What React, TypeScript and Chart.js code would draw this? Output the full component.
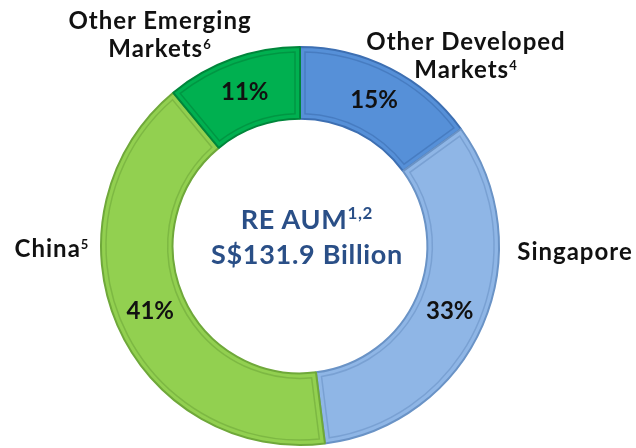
import React, { useEffect, useRef } from "react";
import { Chart, registerables } from "chart.js";

Chart.register(...registerables);

const categories = ["Other Developed Markets", "Singapore", "China", "Other Emerging Markets"];
const shares = [15, 33, 41, 11];
const fills = ["#5690D8", "#8FB6E6", "#92D050", "#00B050"];
const edges = ["#3D6FB2", "#6A93C6", "#6FA83A", "#00863B"];

const FONT = "Lato, 'DejaVu Sans', sans-serif";

const pctLabels = {
  id: "pctLabels",
  afterDatasetsDraw(chart: any) {
    const ctx = chart.ctx;
    const meta = chart.getDatasetMeta(0);
    ctx.save();
    meta.data.forEach((arc: any, i: number) => {
      const { x, y, startAngle, endAngle, innerRadius, outerRadius } = arc.getProps(
        ["x", "y", "startAngle", "endAngle", "innerRadius", "outerRadius"],
        true
      );
      const inset = 5;
      const ri = innerRadius + inset;
      const ro = outerRadius - inset;
      ctx.beginPath();
      ctx.arc(x, y, ro, startAngle + inset / ro, endAngle - inset / ro);
      ctx.arc(x, y, ri, endAngle - inset / ri, startAngle + inset / ri, true);
      ctx.closePath();
      ctx.lineWidth = 1.5;
      ctx.strokeStyle = edges[i];
      ctx.globalAlpha = 0.6;
      ctx.stroke();
      ctx.globalAlpha = 1;
    });
    ctx.font = `bold 24px ${FONT}`;
    ctx.fillStyle = "#111";
    ctx.textAlign = "center";
    ctx.textBaseline = "middle";
    meta.data.forEach((arc: any, i: number) => {
      const p = arc.tooltipPosition();
      ctx.fillText(`${shares[i]}%`, p.x, p.y);
    });
    ctx.restore();
  },
};

const labelStyle: React.CSSProperties = {
  position: "absolute",
  fontFamily: FONT,
  fontWeight: 700,
  fontSize: 24,
  letterSpacing: "1px",
  lineHeight: "28px",
  color: "#111",
  textAlign: "center",
  whiteSpace: "nowrap",
  transform: "translate(-50%, -50%)",
};

const supStyle: React.CSSProperties = {
  fontSize: 13,
  verticalAlign: "top",
  lineHeight: "20px",
};

export default function App() {
  const canvasRef = useRef<HTMLCanvasElement>(null);

  useEffect(() => {
    const chart = new Chart(canvasRef.current!, {
      type: "doughnut",
      data: {
        labels: categories,
        datasets: [
          {
            data: shares,
            backgroundColor: fills,
            borderColor: edges,
            borderWidth: 2,
          },
        ],
      },
      options: {
        responsive: false,
        animation: false,
        radius: 199,
        cutout: "64%",
        layout: { padding: { top: 46, bottom: 2, left: 0, right: 36 } },
        plugins: {
          legend: { display: false },
          tooltip: { enabled: false },
        },
      },
      plugins: [pctLabels],
    });
    return () => chart.destroy();
  }, []);

  return (
    <div style={{ position: "fixed", left: 0, top: 0, width: 636, height: 448, background: "#fff" }}>
      <canvas ref={canvasRef} width={636} height={448} style={{ position: "absolute", left: 0, top: 0 }} />
      <div style={{ ...labelStyle, left: 160, top: 34 }}>
        Other Emerging
        <br />
        Markets<span style={supStyle}>6</span>
      </div>
      <div style={{ ...labelStyle, left: 466, top: 55 }}>
        Other Developed
        <br />
        Markets<span style={supStyle}>4</span>
      </div>
      <div style={{ ...labelStyle, left: 575, top: 251 }}>Singapore</div>
      <div style={{ ...labelStyle, left: 52, top: 248 }}>
        China<span style={supStyle}>5</span>
      </div>
      <div
        style={{
          ...labelStyle,
          left: 307,
          top: 236,
          fontSize: 27,
          letterSpacing: "0.7px",
          lineHeight: "35px",
          color: "#2A4F87",
        }}
      >
        RE AUM<span style={{ ...supStyle, fontSize: 17, lineHeight: "24px" }}>1,2</span>
        <br />
        S$131.9 Billion
      </div>
    </div>
  );
}
